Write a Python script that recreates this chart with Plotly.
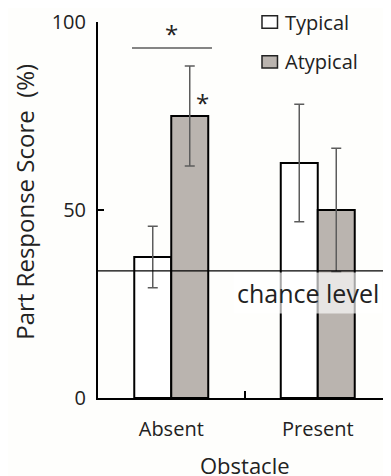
import plotly.graph_objects as go

categories = ["Absent", "Present"]
typical = [37.5, 62.5]
typical_err = [8.2, 15.6]
atypical = [75.0, 50.0]
atypical_err = [13.3, 16.4]
chance_level = 33.8
y_ticks = [0, 50, 100]

FONT = "Open Sans"
TXT = "#222222"
GRAY_FILL = "#bab4af"
ERR = "#5c5c5c"

fig = go.Figure()
fig.add_trace(go.Bar(
    x=categories, y=typical, name="Typical",
    marker=dict(color="white", line=dict(color="black", width=2)),
    error_y=dict(type="data", array=typical_err, color=ERR, thickness=1.5, width=5),
))
fig.add_trace(go.Bar(
    x=categories, y=atypical, name="Atypical",
    marker=dict(color=GRAY_FILL, line=dict(color="black", width=2)),
    error_y=dict(type="data", array=atypical_err, color=ERR, thickness=1.5, width=5),
))

# chance level line
fig.add_shape(type="line", xref="paper", yref="y", x0=0, x1=1,
              y0=chance_level, y1=chance_level, line=dict(color="black", width=1.3))
fig.add_annotation(x=0.93, y=28.0, xref="x", yref="y", text="chance level",
                   showarrow=False, font=dict(family=FONT, size=25, color=TXT),
                   bgcolor="rgba(255,255,255,0.65)", borderpad=3)

# significance marks
fig.add_shape(type="line", xref="x", yref="y", x0=-0.268, x1=0.278, y0=93.1, y1=93.1,
              line=dict(color=ERR, width=1.5))
fig.add_annotation(x=0, y=97, xref="x", yref="y", text="*", showarrow=False,
                   font=dict(family=FONT, size=24, color=TXT), yanchor="middle")
fig.add_annotation(x=0.21, y=78.5, xref="x", yref="y", text="*", showarrow=False,
                   font=dict(family=FONT, size=24, color=TXT), yanchor="middle")

# legend (manual)
leg_items = [("Typical", "white", 1.0), ("Atypical", GRAY_FILL, 0.894)]
for name, col, yc in leg_items:
    fig.add_shape(type="rect", xref="paper", yref="paper",
                  x0=0.5597, x1=0.6126, y0=yc - 0.0165, y1=yc + 0.0165,
                  fillcolor=col, line=dict(color="#222222", width=1.5))
    fig.add_annotation(x=0.631, y=yc, xref="paper", yref="paper", text=name,
                       showarrow=False, xanchor="left", yanchor="middle",
                       font=dict(family=FONT, size=20, color=TXT))

# axis titles
fig.add_annotation(x=-0.249, y=0.522, xref="paper", yref="paper",
                   text="Part Response Score  (%)", textangle=-90, showarrow=False,
                   xanchor="center", yanchor="middle",
                   font=dict(family=FONT, size=24, color=TXT))
fig.add_annotation(x=0.5, y=-0.178, xref="paper", yref="paper", text="Obstacle",
                   showarrow=False, yanchor="middle",
                   font=dict(family=FONT, size=22, color=TXT))

fig.update_layout(
    width=383, height=468,
    margin=dict(l=90, r=0, t=14, b=78),
    paper_bgcolor="#fefefc", plot_bgcolor="#fefefc",
    barmode="group", bargap=0.495, bargroupgap=0,
    showlegend=False,
    font=dict(family=FONT, size=20, color=TXT),
)
fig.update_xaxes(
    showline=True, linecolor="black", linewidth=2, showgrid=False,
    ticks="inside", tickson="boundaries", ticklen=7, tickwidth=2, tickcolor="black",
    range=[-0.5, 1.5], tickfont=dict(family=FONT, size=20, color=TXT),
    ticklabelstandoff=12,
)
fig.update_yaxes(
    range=[0, 100], tickvals=y_ticks, showline=True, linecolor="black", linewidth=2,
    showgrid=False, zeroline=False, ticks="inside", ticklen=6, tickwidth=2,
    tickcolor="black", tickfont=dict(family=FONT, size=20, color=TXT),
    ticklabelstandoff=6,
)

fig.write_html("out.html")
